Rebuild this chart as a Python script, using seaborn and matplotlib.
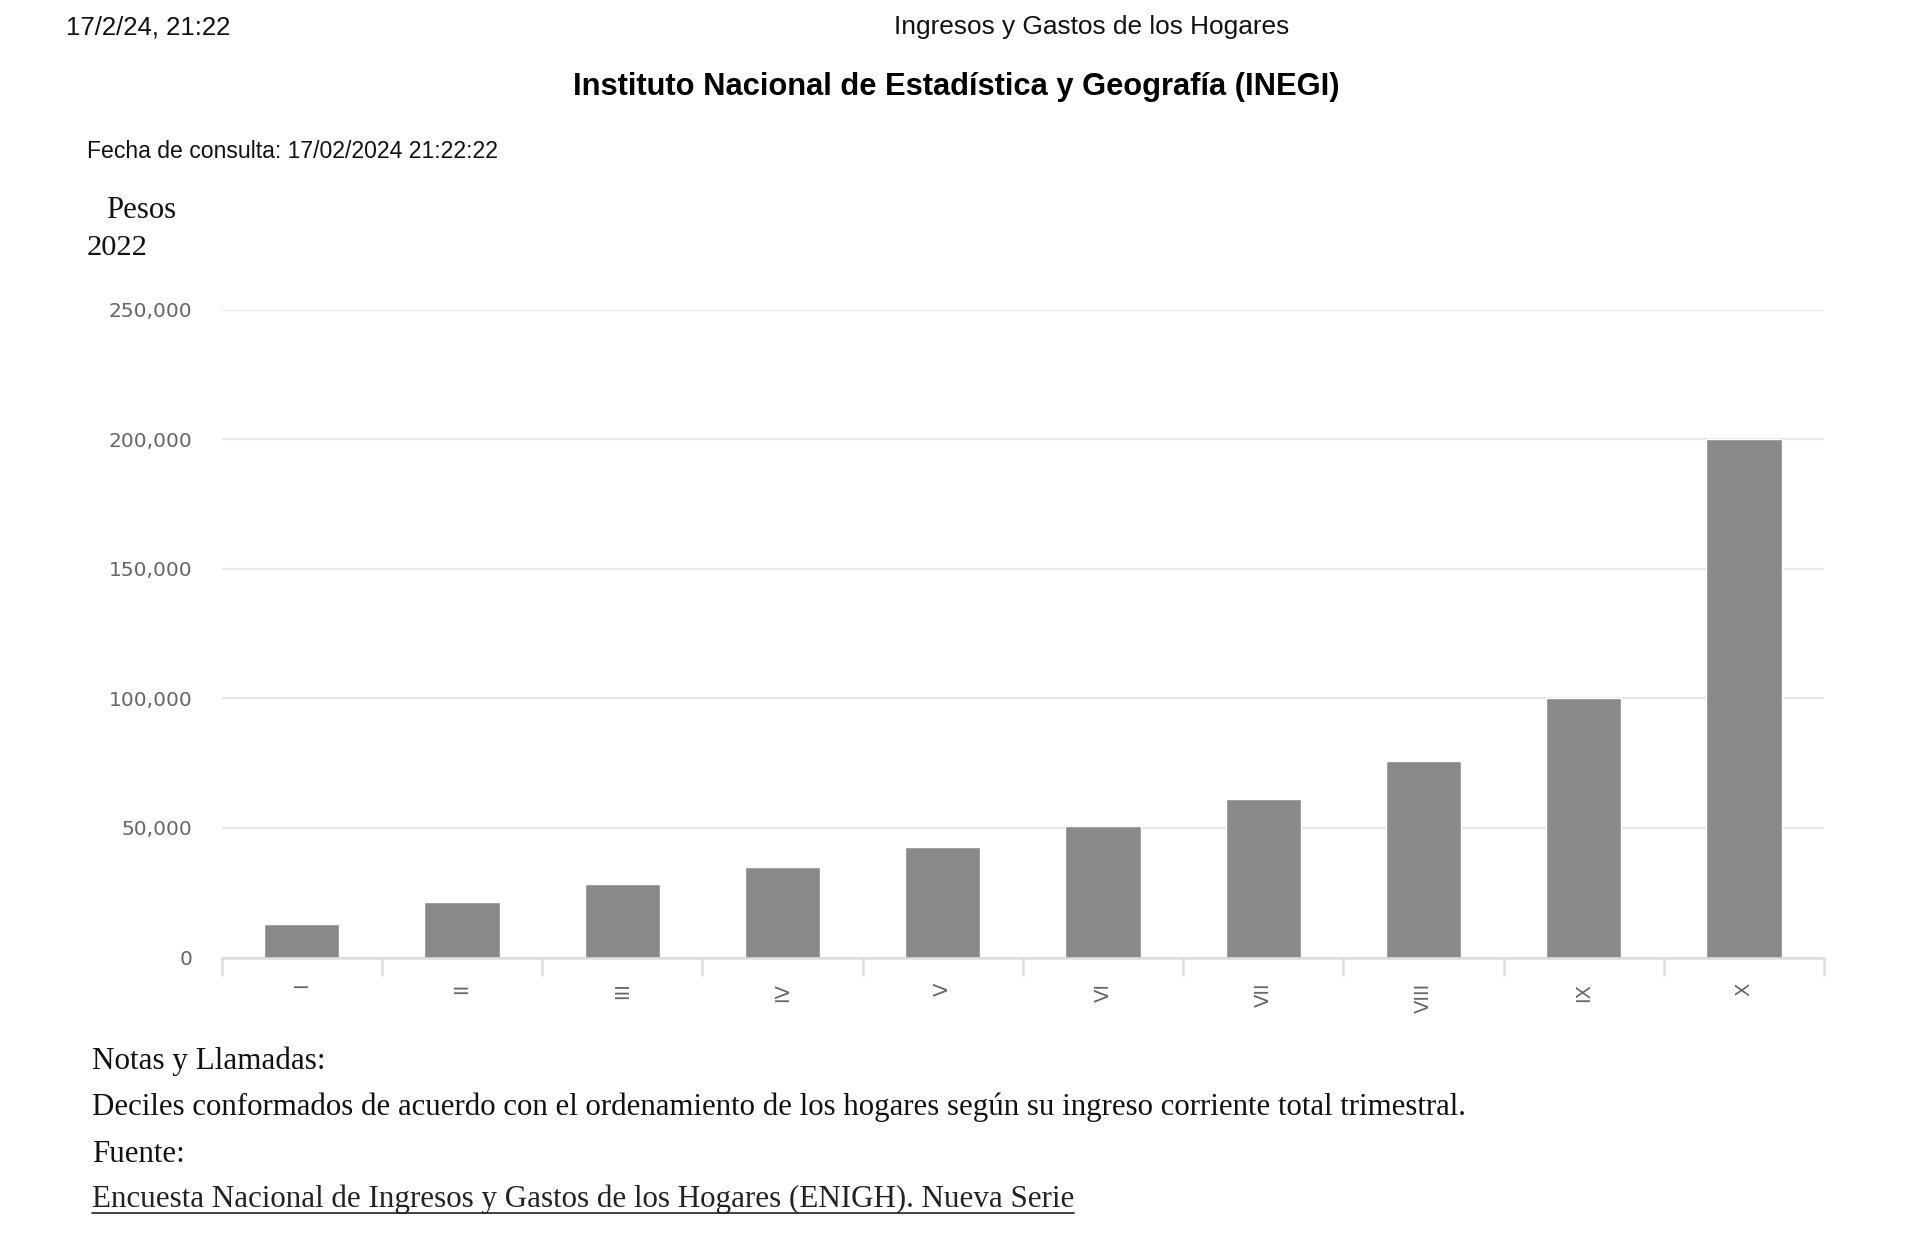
import matplotlib
matplotlib.use("Agg")
import matplotlib.pyplot as plt
import seaborn as sns
from matplotlib.lines import Line2D
from matplotlib.ticker import FuncFormatter, FixedLocator

# ---------------- data ----------------
deciles = ["I", "II", "III", "IV", "V", "VI", "VII", "VIII", "IX", "X"]
ingreso = [12800, 21400, 28300, 35000, 42500, 50600, 61300, 76000, 100000, 200000]
yticks = [0, 50000, 100000, 150000, 200000, 250000]

header_left = "17/2/24, 21:22"
header_center = "Ingresos y Gastos de los Hogares"
title = "Instituto Nacional de Estadística y Geografía (INEGI)"
fecha = "Fecha de consulta: 17/02/2024 21:22:22"
unit1 = "Pesos"
unit2 = "2022"
notas = "Notas y Llamadas:"
nota_txt = "Deciles conformados de acuerdo con el ordenamiento de los hogares según su ingreso corriente total trimestral."
fuente = "Fuente:"
fuente_txt = "Encuesta Nacional de Ingresos y Gastos de los Hogares (ENIGH). Nueva Serie"

# ---------------- figure ----------------
sns.set_theme(style="white")
plt.rcParams["font.family"] = ["DejaVu Sans"]
W, H = 1920, 1249
fig = plt.figure(figsize=(W / 100, H / 100), dpi=100)
fig.patch.set_facecolor("white")

ax = fig.add_axes([221.6 / W, 1 - 957.5 / H, (1824 - 221.6) / W, (957.5 - 309.8) / H])
sns.barplot(x=deciles, y=ingreso, color="#898989", saturation=1, width=0.47,
            edgecolor="white", linewidth=1, ax=ax)
ax.set_xlim(-0.5, len(deciles) - 0.5)
ax.set_ylim(0, 250000)
ax.set_yticks(yticks)
ax.yaxis.set_major_formatter(FuncFormatter(lambda v, p: f"{int(v):,}"))
ax.yaxis.grid(True, color="#e6e6e6", linewidth=1.5)
ax.set_axisbelow(True)
for s in ["left", "right", "top"]:
    ax.spines[s].set_visible(False)
ax.spines["bottom"].set_color("#dcdcdc")
ax.spines["bottom"].set_linewidth(1.8)
ax.set_xlabel("")
ax.set_ylabel("")
ax.tick_params(axis="y", length=0, pad=21, labelsize=14.5, labelcolor="#666666")
ax.tick_params(axis="x", which="major", bottom=True, length=0, pad=18, labelsize=14,
               labelcolor="#666666", labelrotation=90)
ax.xaxis.set_minor_locator(FixedLocator([i - 0.5 for i in range(len(deciles) + 1)]))
ax.tick_params(axis="x", which="minor", bottom=True, length=13, width=1.8,
               color="#dcdcdc", direction="out")
for lab in ax.get_xticklabels():
    lab.set_verticalalignment("top")
    lab.set_horizontalalignment("center")

renderer = fig.canvas.get_renderer()


def fit_text(xpx, ypx, s, target_w, ha="left", **kw):
    t = fig.text(xpx / W, 1 - ypx / H, s, ha=ha, va="center", **kw)
    w = t.get_window_extent(renderer).width
    t.set_fontsize(t.get_fontsize() * target_w / w)
    return t


sans = ["Liberation Sans", "DejaVu Sans"]
serif = ["Liberation Serif", "DejaVu Serif"]

fit_text(66, 27, header_left, 165, family=sans, fontsize=16, color="#111111")
fit_text(1092, 27, header_center, 395, ha="center", family=sans, fontsize=16, color="#111111")
fit_text(956, 87, title, 768, ha="center", family=sans, fontsize=20, fontweight="bold", color="#000000")
fit_text(87, 151, fecha, 415, family=sans, fontsize=14, color="#111111")
fit_text(106.5, 211, unit1, 70, family=serif, fontsize=18, color="#111111")
fit_text(87, 248, unit2, 61, family=serif, fontsize=18, color="#111111")

fit_text(92, 1061, notas, 233, family=serif, fontsize=18, color="#111111")
fit_text(92, 1107.5, nota_txt, 1378, family=serif, fontsize=18, color="#111111")
fit_text(92, 1154, fuente, 93, family=serif, fontsize=18, color="#111111")
t = fit_text(92, 1199.5, fuente_txt, 981, family=serif, fontsize=18, color="#222222")
bb = t.get_window_extent(renderer)
uy = (1 - 1199.5 / H) - 13 / H
fig.add_artist(Line2D([bb.x0 / W, bb.x1 / W], [uy, uy], transform=fig.transFigure,
                      color="#333333", linewidth=1.3))

fig.savefig("out.png", dpi=100, facecolor="white")
